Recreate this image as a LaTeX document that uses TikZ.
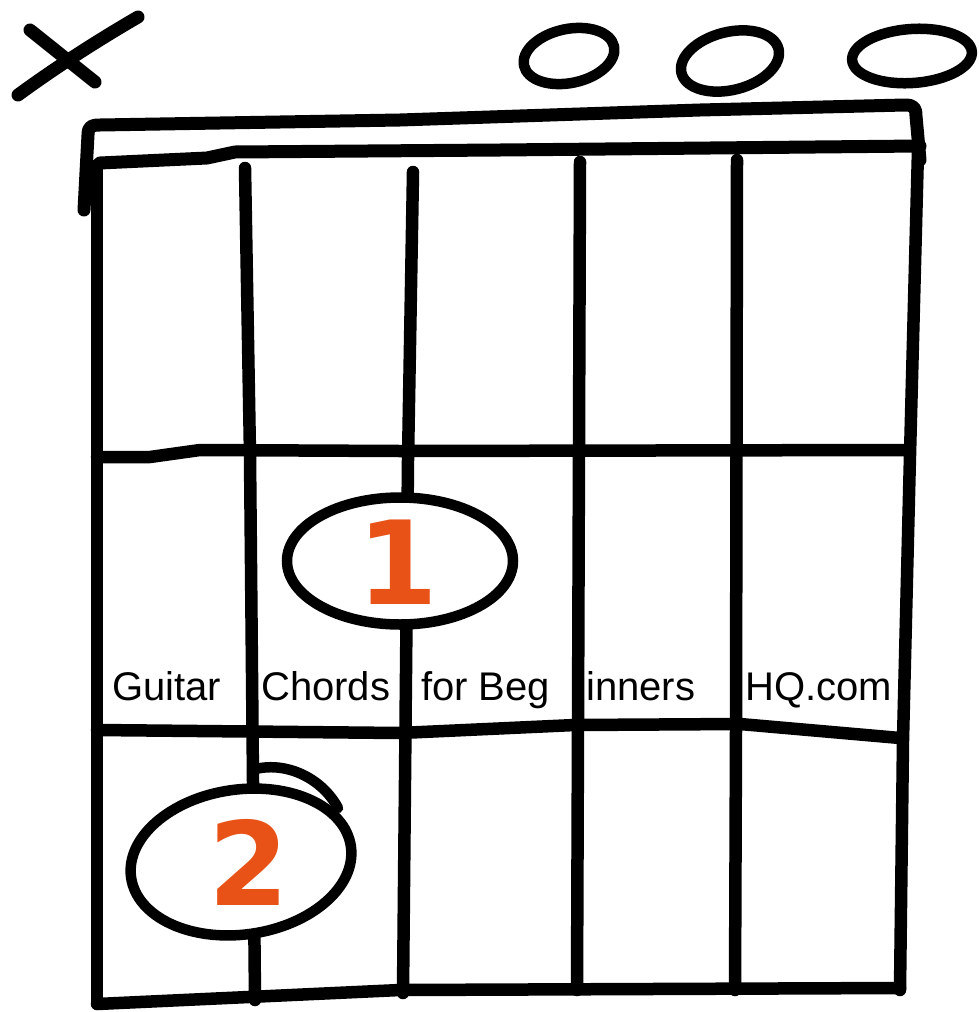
\documentclass[tikz,border=0pt]{standalone}
\usepackage{fontspec}
\setmainfont{Liberation Sans}
\newfontfamily\digitfont{DejaVu Sans}
\usetikzlibrary{shapes.geometric}
\definecolor{fingerorange}{RGB}{232,82,22}
\tikzset{
  ink/.style={line width=12.5pt, line cap=round, line join=round, black},
  openmark/.style={line width=10.5pt, black},
  finger/.style={ellipse, draw=black, fill=white, line width=10.5pt, inner sep=0pt},
  fingernum/.style={text=fingerorange, font=\digitfont\bfseries\fontsize{116}{116}\selectfont, inner sep=0pt},
  brand/.style={font=\fontsize{40}{40}\selectfont, anchor=base west, inner sep=0pt}
}
\begin{document}
\begin{tikzpicture}[x=1pt, y=-1pt]
\path[use as bounding box, fill=white] (0,0) rectangle (979,1012);

% muted string mark (X)
\draw[ink, line width=13pt] (18,95) .. controls (55,68) and (95,42) .. (138,17);
\draw[ink, line width=13pt] (30,30) -- (95,82);

% open string marks (O)
\draw[openmark, rotate around={12:(569,56)}] (569,56) ellipse [x radius=46pt, y radius=27pt];
\draw[openmark, rotate around={14:(730,61)}] (730,61) ellipse [x radius=50pt, y radius=29pt];
\draw[openmark, rotate around={4:(912,56)}] (912,56) ellipse [x radius=60pt, y radius=27pt];

% nut
\draw[ink, line width=13pt] (84,210) -- (88,135) .. controls (88,126) and (92,125) .. (100,125)
   -- (400,120) -- (700,110) -- (905,105) .. controls (914,105) and (916,108) .. (916,116) -- (920,160);
\draw[ink, line width=13pt] (100,163) -- (207,158) -- (235,152) -- (500,150) -- (920,146);

% strings / frame sides
\draw[ink] (97,165) -- (97,1003);
\draw[ink] (245,168) -- (250,455) -- (255,1000);
\draw[ink] (413,172) -- (408,460) -- (403,993);
\draw[ink] (580,162) -- (578,725) -- (577,990);
\draw[ink] (737,160) -- (736,730) -- (735,990);
\draw[ink] (918,150) -- (910,455) -- (903,740) -- (900,990);

% frets
\draw[ink] (97,457) -- (150,457) -- (200,450) -- (400,451) -- (905,450);
\draw[ink] (97,730) -- (400,733) -- (575,725) -- (740,724) -- (900,738);
\draw[ink] (97,1004) -- (400,990) -- (900,988);

% text
\node[brand] (w1) at (112,700) {Guitar};
\node[brand] (w2) at (261,700) {Chords};
\node[brand] (w3) at (421,700) {for Beg};
\node[brand] (w4) at (586,700) {inners};
\node[brand] (w5) at (745,700) {HQ.com};

% fingers
\node[finger, minimum width=226pt, minimum height=127pt] (f1) at (400,561) {};
\node[fingernum] (n1) at (398,562) {1};
\draw[ink, line width=10.5pt] (252,770) .. controls (285,760) and (322,778) .. (338,808);
\node[finger, minimum width=222pt, minimum height=145pt, rotate=8] (f2) at (241,862) {};
\node[fingernum] (n2) at (249,862) {2};
\end{tikzpicture}
\end{document}
